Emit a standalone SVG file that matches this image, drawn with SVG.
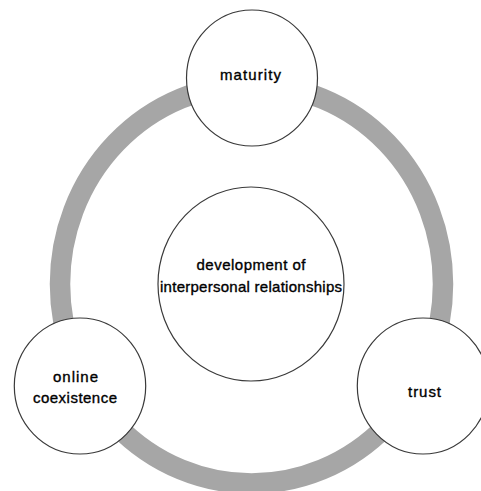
<svg xmlns="http://www.w3.org/2000/svg" width="481" height="491" viewBox="0 0 481 491">
  <style>
    .node { fill: #ffffff; stroke: #3a3a3a; stroke-width: 1.2; }
    .ring { fill: none; stroke: #a6a6a6; stroke-width: 20.5; }
    .label { font-family: "Liberation Sans", Arial, sans-serif; font-size: 15px; fill: #000000; stroke: #000000; stroke-width: 0.35; text-anchor: middle; }
  </style>
  <rect width="481" height="491" fill="#ffffff"/>

  <!-- cycle ring linking the three outer nodes -->
  <g id="connectors">
    <ellipse class="ring" cx="251.5" cy="284" rx="191.5" ry="199.5"/>
  </g>

  <g id="center">
    <ellipse class="node" cx="251" cy="284" rx="93" ry="97"/>
    <text class="label" x="251" y="270" textLength="109" lengthAdjust="spacing">development of</text>
    <text class="label" x="251" y="292" textLength="182" lengthAdjust="spacing">interpersonal relationships</text>
  </g>

  <g id="maturity">
    <ellipse class="node" cx="252" cy="78" rx="65.5" ry="68"/>
    <text class="label" x="250.5" y="80" textLength="61" lengthAdjust="spacing">maturity</text>
  </g>

  <g id="online-coexistence">
    <ellipse class="node" cx="80" cy="386" rx="65.7" ry="68"/>
    <text class="label" x="75.5" y="382" textLength="45" lengthAdjust="spacing">online</text>
    <text class="label" x="75" y="403" textLength="84" lengthAdjust="spacing">coexistence</text>
  </g>

  <g id="trust">
    <ellipse class="node" cx="423" cy="386" rx="65.7" ry="68"/>
    <text class="label" x="424.5" y="397" textLength="33" lengthAdjust="spacing">trust</text>
  </g>
</svg>
